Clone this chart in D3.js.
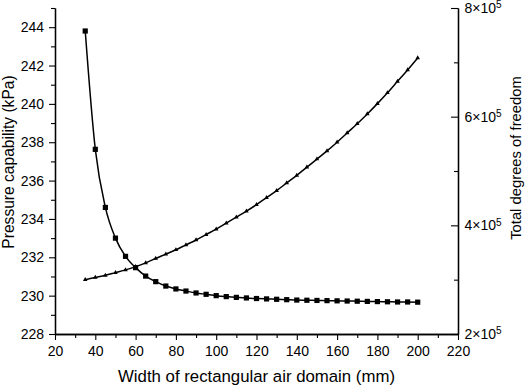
<!DOCTYPE html>
<html>
<head>
<meta charset="utf-8">
<script src="https://cdn.jsdelivr.net/npm/d3@7"></script>
<style>
  body { margin: 0; background: #fff; }
  svg text { font-family: "Liberation Sans", Arial, sans-serif; fill: #000; }
</style>
</head>
<body>
<div id="my_dataviz"></div>
<script>
// air domain width (mm)
let widths = [35, 40, 45, 50, 55, 60, 65, 70, 75, 80, 85, 90, 95, 100, 105, 110, 115,
              120, 125, 130, 135, 140, 145, 150, 155, 160, 165, 170, 175, 180, 185, 190, 195, 200];

// pressure capability (kPa), left axis
let pressure = [243.8, 237.63, 234.6, 233.0, 232.05, 231.46, 231.02, 230.73, 230.5, 230.35,
                230.24, 230.14, 230.07, 230.0, 229.95, 229.91, 229.88,
                229.85, 229.83, 229.81, 229.79, 229.77, 229.76, 229.75, 229.74, 229.73,
                229.72, 229.71, 229.70, 229.69, 229.68, 229.67, 229.67, 229.66];

// total degrees of freedom (x 10^5), right axis
let dof = [3.00, 3.04, 3.08, 3.13, 3.18, 3.24, 3.31, 3.39, 3.47, 3.55, 3.64, 3.73, 3.83, 3.93,
           4.04, 4.15, 4.26, 4.38, 4.51, 4.64, 4.78, 4.92, 5.07, 5.22, 5.37, 5.53, 5.70,
           5.87, 6.05, 6.24, 6.44, 6.65, 6.86, 7.08];

let xTicks = [20, 40, 60, 80, 100, 120, 140, 160, 180, 200, 220];
let leftTicks = [228, 230, 232, 234, 236, 238, 240, 242, 244];
let rightTicks = [2, 4, 6, 8];

let width = 526, height = 387;
let mLeft = 55, mRight = 458, mTop = 8, mBottom = 334;

let svg = d3.select("#my_dataviz")
    .append("svg")
    .attr("width", width)
    .attr("height", height);

let x = d3.scaleLinear().domain([20, 220]).range([mLeft, mRight]);
let yL = d3.scaleLinear().domain([228, 245]).range([mBottom, mTop]);
let yR = d3.scaleLinear().domain([2, 8]).range([mBottom, mTop]);

function styleAxis(g) {
    g.selectAll(".domain").attr("stroke", "#000").attr("stroke-width", 1.3);
    g.selectAll(".tick line").attr("stroke", "#000").attr("stroke-width", 1.1);
    g.selectAll("text").style("font-size", "14px").attr("fill", "#000");
}

// X axis (minor then major)
svg.append("g")
    .attr("transform", "translate(0," + mBottom + ")")
    .call(d3.axisBottom(x).tickValues(d3.range(30, 220, 20)).tickSize(4).tickSizeOuter(0).tickFormat(""))
    .call(styleAxis);
svg.append("g")
    .attr("transform", "translate(0," + mBottom + ")")
    .call(d3.axisBottom(x).tickValues(xTicks).tickSize(6).tickSizeOuter(0).tickPadding(6))
    .call(styleAxis);

// left Y axis
svg.append("g")
    .attr("transform", "translate(" + mLeft + ",0)")
    .call(d3.axisLeft(yL).tickValues(d3.range(229, 246, 2)).tickSize(4).tickSizeOuter(0).tickFormat(""))
    .call(styleAxis);
svg.append("g")
    .attr("transform", "translate(" + mLeft + ",0)")
    .call(d3.axisLeft(yL).tickValues(leftTicks).tickSize(6).tickSizeOuter(0).tickPadding(5))
    .call(styleAxis);

// right Y axis, ticks pointing inward
svg.append("g")
    .attr("transform", "translate(" + mRight + ",0)")
    .call(d3.axisRight(yR).tickValues([3, 5, 7]).tickSizeInner(-4).tickSizeOuter(0).tickFormat(""))
    .call(styleAxis);
let rAxis = svg.append("g")
    .attr("transform", "translate(" + mRight + ",0)")
    .call(d3.axisRight(yR).tickValues(rightTicks).tickSizeInner(-7).tickSizeOuter(0).tickPadding(6.5))
    .call(styleAxis);
rAxis.selectAll(".tick text").each(function(d) {
    let t = d3.select(this).text("");
    t.append("tspan").text(d + "\u00d710");
    t.append("tspan").attr("dy", "-0.45em").style("font-size", "10px").text("5");
});

// Pressure line + squares
let pts = widths.map(function(w, i) { return [w, pressure[i]]; });
svg.append("path")
    .datum(pts)
    .attr("fill", "none")
    .attr("stroke", "#000")
    .attr("stroke-width", 1.5)
    .attr("d", d3.line().curve(d3.curveMonotoneX)
        .x(function(d) { return x(d[0]); })
        .y(function(d) { return yL(d[1]); }));
svg.selectAll("mysquare")
    .data(pts)
    .enter()
    .append("rect")
    .attr("x", function(d) { return x(d[0]) - 2.6; })
    .attr("y", function(d) { return yL(d[1]) - 2.6; })
    .attr("width", 5.2)
    .attr("height", 5.2)
    .attr("fill", "#000");

// DOF line + triangles
let pts2 = widths.map(function(w, i) { return [w, dof[i]]; });
svg.append("path")
    .datum(pts2)
    .attr("fill", "none")
    .attr("stroke", "#000")
    .attr("stroke-width", 1.5)
    .attr("d", d3.line().curve(d3.curveMonotoneX)
        .x(function(d) { return x(d[0]); })
        .y(function(d) { return yR(d[1]); }));
svg.selectAll("mytri")
    .data(pts2)
    .enter()
    .append("path")
    .attr("transform", function(d) { return "translate(" + x(d[0]) + "," + yR(d[1]) + ")"; })
    .attr("d", d3.symbol().type(d3.symbolTriangle).size(9))
    .attr("fill", "#000");

// titles
svg.append("text")
    .attr("x", (mLeft + mRight) / 2)
    .attr("y", 382)
    .attr("text-anchor", "middle")
    .style("font-size", "16.8px")
    .text("Width of rectangular air domain (mm)");

svg.append("text")
    .attr("transform", "translate(13.5,162) rotate(-90)")
    .attr("text-anchor", "middle")
    .style("font-size", "15.6px")
    .text("Pressure capability (kPa)");

svg.append("text")
    .attr("transform", "translate(521,158) rotate(-90)")
    .attr("text-anchor", "middle")
    .style("font-size", "14.8px")
    .text("Total degrees of freedom");
</script>
</body>
</html>
